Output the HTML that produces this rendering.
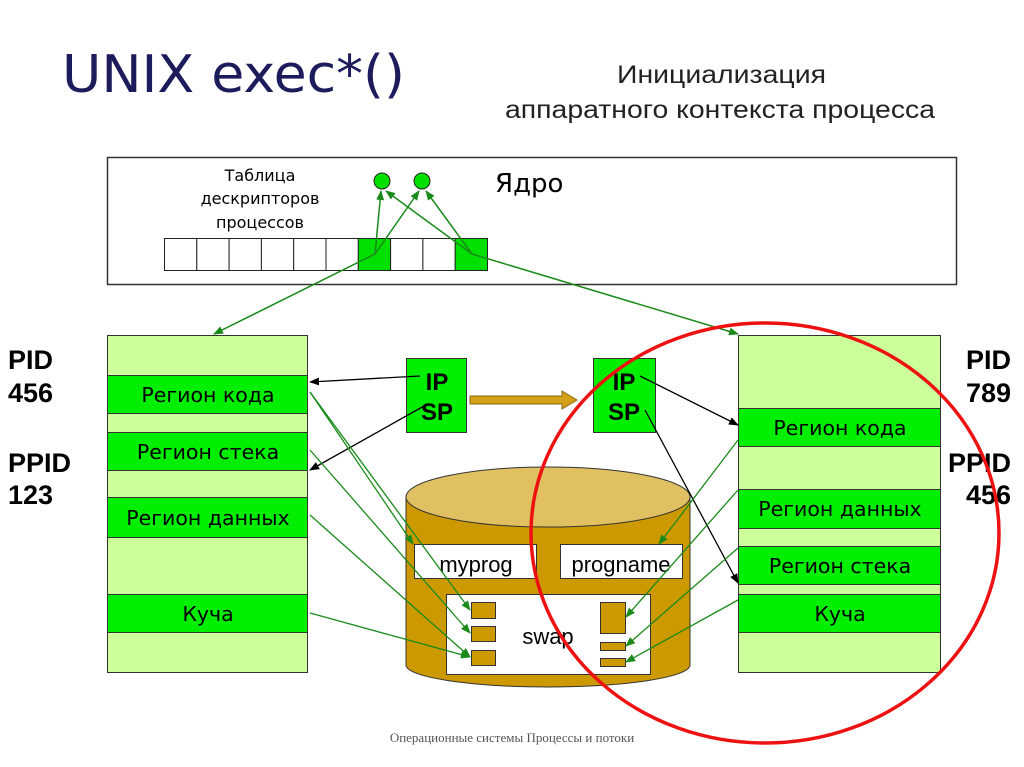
<!DOCTYPE html>
<html><head><meta charset="utf-8"><style>
body{margin:0;background:#fff;}
svg{display:block}
text{font-family:"DejaVu Sans","Liberation Sans",sans-serif;}
text.l{font-family:"Liberation Sans",sans-serif;}
text.s{font-family:"Liberation Serif",serif;}
</style></head><body>
<svg width="1024" height="767" viewBox="0 0 1024 767" xmlns="http://www.w3.org/2000/svg">
<defs>
<marker id="g" markerWidth="10" markerHeight="10" refX="9" refY="5" orient="auto" markerUnits="userSpaceOnUse"><path d="M0,1 L10,5 L0,9 z" fill="#1a8a1a"/></marker>
<marker id="k" markerWidth="10" markerHeight="10" refX="9" refY="5" orient="auto" markerUnits="userSpaceOnUse"><path d="M0,1 L10,5 L0,9 z" fill="#000"/></marker>
</defs>
<text x="62" y="92" font-size="52" fill="#1c1c5c" textLength="343" lengthAdjust="spacingAndGlyphs">UNIX exec*()</text>
<text class="l" x="617" y="83" font-size="25" fill="#222" textLength="209" lengthAdjust="spacingAndGlyphs">Инициализация</text>
<text class="l" x="505" y="118" font-size="25" fill="#222" textLength="430" lengthAdjust="spacingAndGlyphs">аппаратного контекста процесса</text>

<rect x="107.5" y="157.5" width="849" height="127" fill="#fff" stroke="#333" stroke-width="1.5"/>
<text x="260" y="181" font-size="16" text-anchor="middle">Таблица</text>
<text x="260" y="204" font-size="16" text-anchor="middle">дескрипторов</text>
<text x="260" y="228" font-size="16" text-anchor="middle">процессов</text>
<text x="495" y="192" font-size="26">Ядро</text>
<g stroke="#222" stroke-width="1">
<rect x="164.5" y="238.5" width="32.3" height="32" fill="#fff"/>
<rect x="196.8" y="238.5" width="32.3" height="32" fill="#fff"/>
<rect x="229.1" y="238.5" width="32.3" height="32" fill="#fff"/>
<rect x="261.4" y="238.5" width="32.3" height="32" fill="#fff"/>
<rect x="293.7" y="238.5" width="32.3" height="32" fill="#fff"/>
<rect x="326" y="238.5" width="32.3" height="32" fill="#fff"/>
<rect x="358.3" y="238.5" width="32.3" height="32" fill="#00e000"/>
<rect x="390.6" y="238.5" width="32.3" height="32" fill="#fff"/>
<rect x="422.9" y="238.5" width="32.3" height="32" fill="#fff"/>
<rect x="455.2" y="238.5" width="32.3" height="32" fill="#00e000"/>
<circle cx="382" cy="181" r="8" fill="#00e000"/>
<circle cx="422" cy="181" r="8" fill="#00e000"/>
</g>
<g stroke="#1a8a1a" stroke-width="1.5" fill="none">
<line x1="375" y1="254" x2="381" y2="191" marker-end="url(#g)"/>
<line x1="375" y1="254" x2="419" y2="191" marker-end="url(#g)"/>
<line x1="472" y1="254" x2="386" y2="191" marker-end="url(#g)"/>
<line x1="472" y1="254" x2="426" y2="191" marker-end="url(#g)"/>
<line x1="375" y1="254" x2="214" y2="334" marker-end="url(#g)"/>
<line x1="472" y1="254" x2="738" y2="334" marker-end="url(#g)"/>
</g>

<rect x="107.5" y="335.5" width="200" height="337" fill="#ccff99" stroke="#333"/>
<g stroke="#333" fill="#00ee00">
<rect x="107.5" y="375.5" width="200" height="38"/>
<rect x="107.5" y="432.5" width="200" height="38"/>
<rect x="107.5" y="497.5" width="200" height="40"/>
<rect x="107.5" y="594.5" width="200" height="38"/>
</g>
<g font-size="20.5" text-anchor="middle">
<text x="208" y="402">Регион кода</text>
<text x="208" y="459">Регион стека</text>
<text x="208" y="525">Регион данных</text>
<text x="208" y="621">Куча</text>
</g>
<rect x="738.5" y="335.5" width="202" height="337" fill="#ccff99" stroke="#333"/>
<g stroke="#333" fill="#00ee00">
<rect x="738.5" y="408.5" width="202" height="38"/>
<rect x="738.5" y="489.5" width="202" height="39"/>
<rect x="738.5" y="546.5" width="202" height="38"/>
<rect x="738.5" y="594.5" width="202" height="38"/>
</g>
<g font-size="20.5" text-anchor="middle">
<text x="840" y="435">Регион кода</text>
<text x="840" y="516">Регион данных</text>
<text x="840" y="573">Регион стека</text>
<text x="840" y="621">Куча</text>
</g>

<g font-size="27" font-weight="bold">
<text class="l" x="8" y="369">PID</text><text class="l" x="8" y="402">456</text>
<text class="l" x="8" y="472">PPID</text><text class="l" x="8" y="504">123</text>
<text class="l" x="966" y="369">PID</text><text class="l" x="966" y="402">789</text>
<text class="l" x="948" y="472">PPID</text><text class="l" x="966" y="504">456</text>
</g>

<rect x="406.5" y="358.5" width="60" height="74" fill="#00ee00" stroke="#333"/>
<rect x="593.5" y="358.5" width="62" height="74" fill="#00ee00" stroke="#333"/>
<g font-size="24" font-weight="bold" text-anchor="middle">
<text class="l" x="437" y="390">IP</text><text class="l" x="437" y="420">SP</text>
<text class="l" x="624" y="390">IP</text><text class="l" x="624" y="420">SP</text>
</g>
<path d="M470,396 L562,396 L562,391 L577,400 L562,409 L562,404 L470,404 z" fill="#d4a017" stroke="#8a6a10"/>

<path d="M406,497 L406,665 A142,22 0 0 0 690,665 L690,497 z" fill="#cc9900" stroke="#333"/>
<ellipse cx="548" cy="497" rx="142" ry="30" fill="#e0c060" stroke="#333"/>
<rect x="414.5" y="544.5" width="122" height="34" fill="#fff" stroke="#333"/>
<rect x="560.5" y="544.5" width="122" height="34" fill="#fff" stroke="#333"/>
<text class="l" x="476" y="572" font-size="22" text-anchor="middle">myprog</text>
<text class="l" x="621" y="572" font-size="22" text-anchor="middle">progname</text>
<rect x="446.5" y="594.5" width="204" height="80" fill="#fff" stroke="#333"/>
<text class="l" x="548" y="644" font-size="22" text-anchor="middle">swap</text>
<g fill="#cc9900" stroke="#333">
<rect x="471.5" y="602.5" width="24" height="16"/>
<rect x="471.5" y="626.5" width="24" height="15"/>
<rect x="471.5" y="650.5" width="24" height="15"/>
<rect x="600.5" y="602.5" width="25" height="31"/>
<rect x="600.5" y="642.5" width="25" height="8"/>
<rect x="600.5" y="658.5" width="25" height="8"/>
</g>

<g stroke="#000" stroke-width="1.3">
<line x1="420" y1="376" x2="310" y2="382" marker-end="url(#k)"/>
<line x1="424" y1="406" x2="310" y2="470" marker-end="url(#k)"/>
<line x1="640" y1="376" x2="738" y2="425" marker-end="url(#k)"/>
<line x1="645" y1="410" x2="738" y2="583" marker-end="url(#k)"/>
</g>
<g stroke="#1a8a1a" stroke-width="1.3">
<line x1="310" y1="392" x2="413" y2="544" marker-end="url(#g)"/>
<line x1="310" y1="392" x2="470" y2="610" marker-end="url(#g)"/>
<line x1="310" y1="450" x2="470" y2="633" marker-end="url(#g)"/>
<line x1="310" y1="515" x2="470" y2="657" marker-end="url(#g)"/>
<line x1="310" y1="613" x2="470" y2="657" marker-end="url(#g)"/>
<line x1="738" y1="440" x2="659" y2="544" marker-end="url(#g)"/>
<line x1="738" y1="490" x2="626" y2="617" marker-end="url(#g)"/>
<line x1="738" y1="548" x2="626" y2="646" marker-end="url(#g)"/>
<line x1="738" y1="600" x2="626" y2="662" marker-end="url(#g)"/>
</g>

<ellipse cx="765" cy="533" rx="234" ry="210" fill="none" stroke="#ee1111" stroke-width="3.5"/>

<text class="s" x="512" y="742" font-size="13" text-anchor="middle" fill="#555">Операционные системы Процессы и потоки</text>
</svg>
</body></html>
